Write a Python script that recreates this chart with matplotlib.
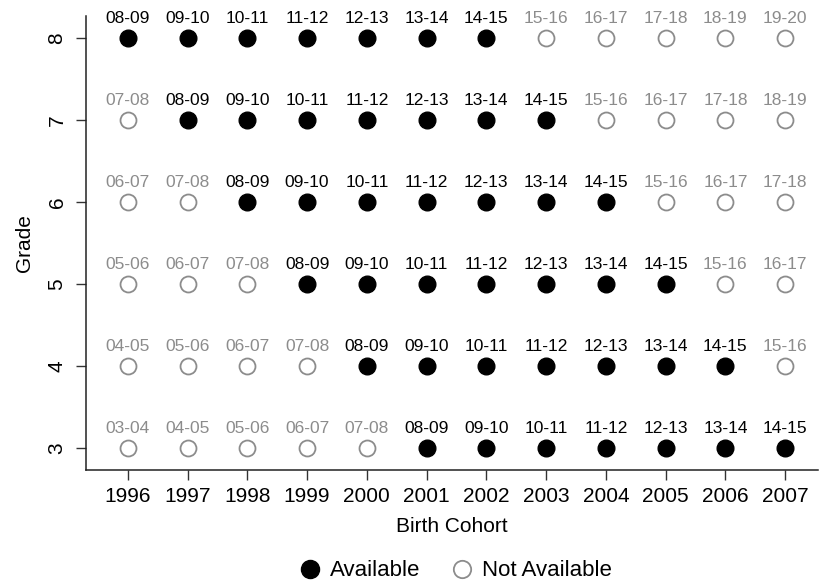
import matplotlib
matplotlib.use("Agg")
import matplotlib.pyplot as plt
from matplotlib.lines import Line2D

plt.rcParams['font.family'] = ['Liberation Sans', 'DejaVu Sans']

cohorts = [1996, 1997, 1998, 1999, 2000, 2001, 2002, 2003, 2004, 2005, 2006, 2007]
grades = [3, 4, 5, 6, 7, 8]

school_years = {
    8: ["08-09", "09-10", "10-11", "11-12", "12-13", "13-14", "14-15", "15-16", "16-17", "17-18", "18-19", "19-20"],
    7: ["07-08", "08-09", "09-10", "10-11", "11-12", "12-13", "13-14", "14-15", "15-16", "16-17", "17-18", "18-19"],
    6: ["06-07", "07-08", "08-09", "09-10", "10-11", "11-12", "12-13", "13-14", "14-15", "15-16", "16-17", "17-18"],
    5: ["05-06", "06-07", "07-08", "08-09", "09-10", "10-11", "11-12", "12-13", "13-14", "14-15", "15-16", "16-17"],
    4: ["04-05", "05-06", "06-07", "07-08", "08-09", "09-10", "10-11", "11-12", "12-13", "13-14", "14-15", "15-16"],
    3: ["03-04", "04-05", "05-06", "06-07", "07-08", "08-09", "09-10", "10-11", "11-12", "12-13", "13-14", "14-15"],
}
available = {
    8: [1, 1, 1, 1, 1, 1, 1, 0, 0, 0, 0, 0],
    7: [0, 1, 1, 1, 1, 1, 1, 1, 0, 0, 0, 0],
    6: [0, 0, 1, 1, 1, 1, 1, 1, 1, 0, 0, 0],
    5: [0, 0, 0, 1, 1, 1, 1, 1, 1, 1, 0, 0],
    4: [0, 0, 0, 0, 1, 1, 1, 1, 1, 1, 1, 0],
    3: [0, 0, 0, 0, 0, 1, 1, 1, 1, 1, 1, 1],
}

GRAY = '#8c8c8c'

fig = plt.figure(figsize=(8.19, 5.87), dpi=100)
ax = fig.add_axes([86/819, 1-470/587, (818-86)/819, (470-16)/587])

for g in grades:
    for c, lab, av in zip(cohorts, school_years[g], available[g]):
        if av:
            ax.plot(c, g, 'o', ms=12, mfc='black', mec='black', mew=1, zorder=3)
            col = 'black'
        else:
            ax.plot(c, g, 'o', ms=11.5, mfc='white', mec=GRAY, mew=1.3, zorder=3)
            col = GRAY
        ax.annotate(lab, (c, g), xytext=(0, 8.5), textcoords='offset points',
                    ha='center', va='bottom', fontsize=12.5, color=col)

ax.set_xlim(1995.3, 2007.55)
ax.set_ylim(2.73, 8.27)
ax.set_xticks(cohorts)
ax.set_yticks(grades)
ax.tick_params(axis='both', labelsize=15, length=7, width=1, color='#333333', pad=5)
ax.tick_params(axis='y', pad=7)
for lbl in ax.get_yticklabels():
    lbl.set_rotation(90)
    lbl.set_va('center')
ax.spines['top'].set_visible(False)
ax.spines['right'].set_visible(False)
for s in ('left', 'bottom'):
    ax.spines[s].set_linewidth(1.1)
    ax.spines[s].set_color('#222222')

ax.set_xlabel('Birth Cohort', fontsize=15, labelpad=8)
ax.set_ylabel('Grade', fontsize=15, labelpad=10)

handles = [
    Line2D([], [], ls='none', marker='o', ms=13, mfc='black', mec='black'),
    Line2D([], [], ls='none', marker='o', ms=12.5, mfc='white', mec=GRAY, mew=1.3),
]
fig.legend(handles, ['Available', 'Not Available'], loc='center', ncol=2,
           bbox_to_anchor=(0.556, 1-571/587), frameon=False, fontsize=16,
           handlelength=1.0, handletextpad=0.4, columnspacing=1.4)

fig.savefig('out.png', dpi=100)
